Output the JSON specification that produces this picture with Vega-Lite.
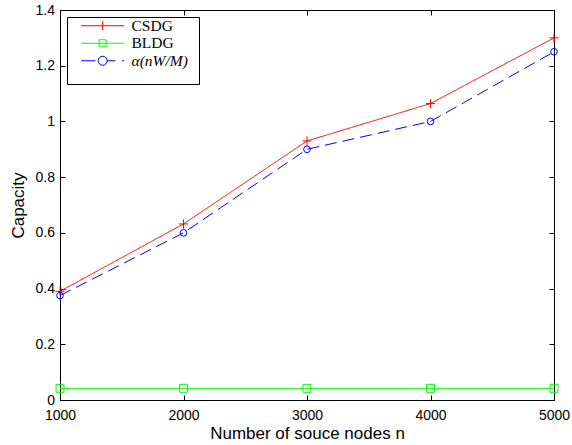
{
  "$schema": "https://vega.github.io/schema/vega-lite/v6.json",
  "width": 494,
  "height": 390,
  "autosize": {"type": "none"},
  "padding": {"left": 60, "top": 10, "right": 18, "bottom": 45},
  "background": "white",
  "config": {
    "font": "Liberation Sans",
    "view": {"stroke": "black", "strokeWidth": 1},
    "axis": {
      "grid": false,
      "domainColor": "black",
      "domainWidth": 1,
      "tickColor": "black",
      "tickWidth": 1,
      "tickSize": -5,
      "labelColor": "black",
      "labelFont": "Liberation Sans",
      "labelFontSize": 14,
      "titleFont": "Liberation Sans",
      "titleFontSize": 17,
      "titleFontWeight": "normal",
      "titleColor": "black"
    },
    "legend": {
      "labelFont": "Liberation Serif",
      "labelFontSize": 15.5,
      "labelColor": "black"
    }
  },
  "data": {
    "values": [
      {"series": "CSDG", "n": 1000, "capacity": 0.39},
      {"series": "CSDG", "n": 2000, "capacity": 0.632},
      {"series": "CSDG", "n": 3000, "capacity": 0.93},
      {"series": "CSDG", "n": 4000, "capacity": 1.064},
      {"series": "CSDG", "n": 5000, "capacity": 1.30},
      {"series": "BLDG", "n": 1000, "capacity": 0.042},
      {"series": "BLDG", "n": 2000, "capacity": 0.042},
      {"series": "BLDG", "n": 3000, "capacity": 0.042},
      {"series": "BLDG", "n": 4000, "capacity": 0.042},
      {"series": "BLDG", "n": 5000, "capacity": 0.042},
      {"series": "α(nW/M)", "n": 1000, "capacity": 0.375},
      {"series": "α(nW/M)", "n": 2000, "capacity": 0.60},
      {"series": "α(nW/M)", "n": 3000, "capacity": 0.90},
      {"series": "α(nW/M)", "n": 4000, "capacity": 1.0},
      {"series": "α(nW/M)", "n": 5000, "capacity": 1.25}
    ]
  },
  "resolve": {
    "scale": {"color": "independent", "shape": "independent", "strokeDash": "independent", "size": "independent"},
    "axis": {"x": "independent", "y": "independent"}
  },
  "layer": [
    {
      "mark": {"type": "line", "strokeWidth": 1},
      "encoding": {
        "x": {"field": "n", "type": "quantitative",
              "scale": {"domain": [1000, 5000], "nice": false, "zero": false},
              "axis": {"orient": "bottom", "values": [1000, 2000, 3000, 4000, 5000], "title": "Number of souce nodes n", "labelPadding": 13, "titlePadding": 3, "labelFlush": false, "format": "d"}},
        "y": {"field": "capacity", "type": "quantitative",
              "scale": {"domain": [0, 1.4], "nice": false},
              "axis": {"orient": "left", "values": [0, 0.2, 0.4, 0.6, 0.8, 1, 1.2, 1.4], "title": "Capacity", "labelPadding": 10.5, "titlePadding": 8, "format": "~g"}},
        "color": {"field": "series", "type": "nominal",
                  "scale": {"domain": ["CSDG", "BLDG", "α(nW/M)"], "range": ["#ff0000", "#00ff00", "#0000ff"]},
                  "legend": null},
        "strokeDash": {"field": "series", "type": "nominal",
                  "scale": {"domain": ["CSDG", "BLDG", "α(nW/M)"], "range": [[1, 0], [1, 0], [12, 6]]},
                  "legend": null}
      }
    },
    {
      "mark": {"type": "point", "filled": false, "strokeWidth": 1, "opacity": 1},
      "encoding": {
        "x": {"field": "n", "type": "quantitative",
              "axis": {"orient": "top", "values": [1000, 2000, 3000, 4000, 5000], "labels": false, "title": null, "domain": false}},
        "y": {"field": "capacity", "type": "quantitative",
              "axis": {"orient": "right", "values": [0, 0.2, 0.4, 0.6, 0.8, 1, 1.2, 1.4], "labels": false, "title": null, "domain": false}},
        "color": {"field": "series", "type": "nominal",
                  "scale": {"domain": ["CSDG", "BLDG", "α(nW/M)"], "range": ["#ff0000", "#00ff00", "#0000ff"]},
                  "legend": null},
        "shape": {"field": "series", "type": "nominal",
                  "scale": {"domain": ["CSDG", "BLDG", "α(nW/M)"], "range": ["M-1,0H1M0,-1V1", "square", "circle"]},
                  "legend": null},
        "size": {"field": "series", "type": "nominal",
                  "scale": {"domain": ["CSDG", "BLDG", "α(nW/M)"], "range": [81, 45, 81]},
                  "legend": null}
      }
    },
    {
      "transform": [{"filter": "datum.n < 0"}],
      "mark": {"type": "point", "filled": false, "strokeWidth": 1},
      "encoding": {
        "x": {"field": "n", "type": "quantitative", "axis": null},
        "y": {"field": "capacity", "type": "quantitative", "axis": null},
        "color": {"field": "series", "type": "nominal",
                  "scale": {"domain": ["CSDG", "BLDG", "α(nW/M)"], "range": ["#ff0000", "#00ff00", "#0000ff"]},
                  "legend": {
                    "title": "\u00a0",
                    "titleOrient": "right",
                    "titleFontSize": 39,
                    "titleBaseline": "top",
                    "titlePadding": 10,
                    "orient": "top-left",
                    "offset": 7,
                    "padding": 1,
                    "fillColor": "white",
                    "strokeColor": "black",
                    "symbolSize": 100,
                    "symbolStrokeWidth": 1,
                    "symbolOpacity": 1,
                    "labelOffset": 48,
                    "rowPadding": 0.5,
                    "labelFontStyle": {"expr": "datum.label == 'α(nW/M)' ? 'italic' : 'normal'"}
                  }},
        "shape": {"field": "series", "type": "nominal",
                  "scale": {"domain": ["CSDG", "BLDG", "α(nW/M)"],
                            "range": ["M1.08,0H9.68M5.38,-0.9V0.9",
                                      "M1.08,0H9.68M4.68,-0.7H6.08V0.7H4.68Z",
                                      "M1.08,0H3.94M4.48,0A0.9,0.9 0 1,0 6.28,0A0.9,0.9 0 1,0 4.48,0M6.28,0H7.94M9.28,0H9.68"]},
                  "legend": {
                    "title": "\u00a0",
                    "titleOrient": "right",
                    "titleFontSize": 39,
                    "titleBaseline": "top",
                    "titlePadding": 10,
                    "orient": "top-left",
                    "offset": 7,
                    "padding": 1,
                    "fillColor": "white",
                    "strokeColor": "black",
                    "symbolSize": 100,
                    "symbolStrokeWidth": 1,
                    "symbolOpacity": 1,
                    "labelOffset": 48,
                    "rowPadding": 0.5,
                    "labelFontStyle": {"expr": "datum.label == 'α(nW/M)' ? 'italic' : 'normal'"}
                  }}
      }
    }
  ]
}
